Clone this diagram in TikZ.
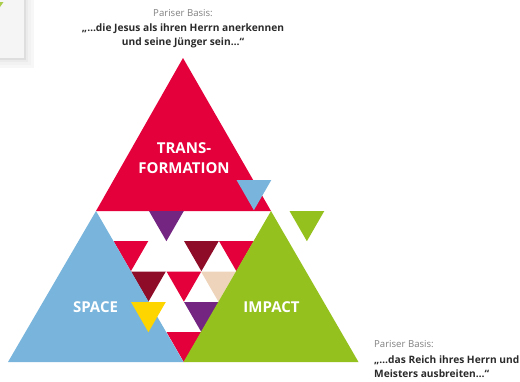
\documentclass[tikz,border=0pt]{standalone}
\usepackage{fontspec}
\setmainfont{Open Sans}
\definecolor{cred}{HTML}{E4003A}
\definecolor{cblue}{HTML}{78B4DC}
\definecolor{cgreen}{HTML}{95C11F}
\definecolor{cdark}{HTML}{8F0C28}
\definecolor{cpurple}{HTML}{742582}
\definecolor{cbeige}{HTML}{EFD4BC}
\definecolor{cyell}{HTML}{FFD500}
\definecolor{ctxt}{HTML}{2A2A2A}
\definecolor{cgrey}{HTML}{808080}
\tikzset{
  x=1pt,y=-1pt,
  label white/.style={text=white,font=\fontsize{15}{19.5}\selectfont\bfseries,align=center,inner sep=0pt},
  cap grey/.style={text=cgrey,font=\fontsize{9.6}{12}\selectfont,inner sep=0pt},
  cap bold/.style={text=ctxt,font=\fontsize{10.2}{14}\selectfont\bfseries,inner sep=0pt},
}
\newcommand{\tri}[3]{\fill[#1] (#2,#3) -- ++(34.8,0) -- ++(-17.4,30.2) -- cycle;}
\begin{document}
\begin{tikzpicture}
\useasboundingbox (0,0) rectangle (520,381);
% card with soft shadow
\fill[black!3] (0,0) rectangle (34,68);
\fill[black!5] (0,0) rectangle (31,65);
\fill[black!8] (0,0) rectangle (28,62);
\fill[black!13] (0,0) rectangle (26,60);
\fill[black!4] (0,0) rectangle (24,58);
\fill[cgreen!80] (0,2) -- (3.5,2) -- (0,7) -- cycle;
% red triangle
\fill[cred] (183,58) -- (271,211) -- (96,211) -- cycle;
% small inverted
\tri{cpurple}{149}{211}
\tri{cred}{113.5}{241}
\tri{cdark}{184}{241}
\tri{cred}{219}{241}
\tri{cdark}{131}{271.5}
\tri{cred}{166.5}{271.5}
\tri{cbeige}{201}{271.5}
\tri{cpurple}{184}{302}
\tri{cred}{166.5}{332}
% corners
\fill[cblue] (96,211) -- (183.5,362) -- (8,362) -- cycle;
\fill[cgreen] (271,211) -- (358.5,362) -- (183.5,362) -- cycle;
\tri{cyell}{131}{302}
\tri{cblue}{236.5}{180}
\tri{cgreen}{289.5}{211}
% labels
\node[label white] (tf) at (184,158) {TRANS-\\FORMATION};
\node[label white] (sp) at (95.5,307) {SPACE};
\node[label white] (im) at (271.5,307) {IMPACT};
\node[cap grey] (c1) at (183,13) {Pariser Basis:};
\node[cap bold,align=center] (c2) at (183,35.5) {„…die Jesus als ihren Herrn anerkennen\\und seine Jünger sein…“};
\node[cap grey,anchor=west] (c3) at (374,344) {Pariser Basis:};
\node[cap bold,align=left,anchor=west] (c4) at (374,366.5) {„…das Reich ihres Herrn und\\Meisters ausbreiten…“};
\end{tikzpicture}
\end{document}
